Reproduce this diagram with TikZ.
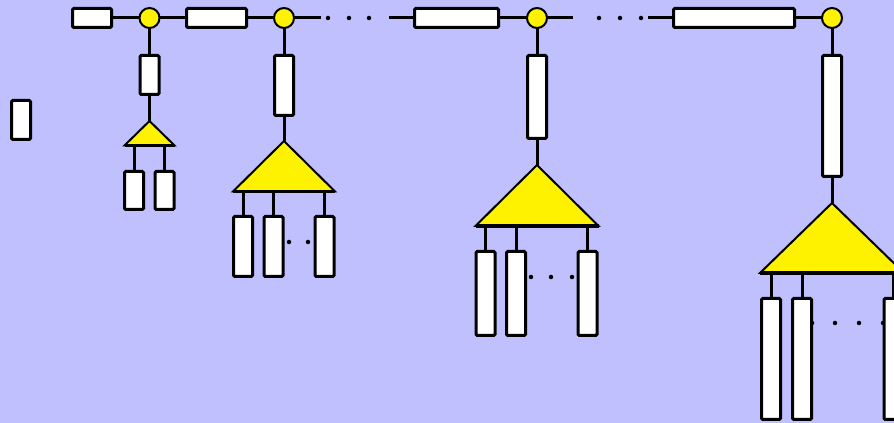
\documentclass[tikz,border=0pt]{standalone}
\definecolor{bg}{RGB}{192,192,255}
\tikzset{
  sz/.style 2 args={minimum width=#1*0.75pt, minimum height=#2*0.75pt},
  box/.style={draw, fill=white, line width=2.25pt, rounded corners=1pt,
              inner sep=0pt, outer sep=0pt},
  joint/.style={circle, draw, fill=yellow, line width=1.5pt, inner sep=0pt,
                outer sep=0pt, minimum size=20*0.75pt},
  wire/.style={line width=2.25pt},
  tri/.style={draw, fill=yellow, line width=1.5pt, line join=miter},
  basel/.style={line width=2.6pt},
  dotn/.style={circle, fill=black, inner sep=0pt, minimum size=4.5*0.75pt},
}
\begin{document}
\begin{tikzpicture}[x=0.75pt, y=-0.75pt]
  % canvas
  \fill[bg] (0,0) rectangle (894,423);
  \useasboundingbox (0,0) rectangle (894,423);

  % ellipsis dots (drawn first so boxes can cover them)
  \node[dotn] (ta) at (328,18) {};
  \node[dotn] (tb) at (349,18) {};
  \node[dotn] (tc) at (369,18) {};
  \node[dotn] (td) at (599,18) {};
  \node[dotn] (te) at (620,18) {};
  \node[dotn] (tf) at (641,18) {};
  \node[dotn] (ua) at (289,242) {};
  \node[dotn] (ub) at (308,242) {};
  \node[dotn] (va) at (531,277) {};
  \node[dotn] (vb) at (551,277) {};
  \node[dotn] (vc) at (572,277) {};
  \node[dotn] (wa) at (812,323) {};
  \node[dotn] (wb) at (835,323) {};
  \node[dotn] (wc) at (859,323) {};
  \node[dotn] (wd) at (883,323) {};

  % triangles (apex, base left, base right)
  \coordinate (p1) at (149.5,121); \coordinate (l1) at (124.5,145.5); \coordinate (r1) at (174.5,145.5);
  \coordinate (p2) at (284,141);   \coordinate (l2) at (233,191.5);   \coordinate (r2) at (335,191.5);
  \coordinate (p3) at (537,165);   \coordinate (l3) at (475.5,226);   \coordinate (r3) at (598.5,226);
  \coordinate (p4) at (832,203);   \coordinate (l4) at (760,273);     \coordinate (r4) at (904,273);
  \foreach \i in {1,2,3,4}{
    \draw[tri] (p\i) -- (l\i) -- (r\i) -- cycle;
    \draw[basel] (l\i) -- (r\i);
  }

  % top chain
  \node[box, sz={39}{19}]  (h1) at (92,18) {};
  \node[joint]             (j1) at (149.5,18) {};
  \node[box, sz={60}{19}]  (h2) at (216.5,18) {};
  \node[joint]             (j2) at (284,18) {};
  \node[box, sz={84}{19}]  (h3) at (456.5,18) {};
  \node[joint]             (j3) at (537,18) {};
  \node[box, sz={121}{19}] (h4) at (734,18) {};
  \node[joint]             (j4) at (832,18) {};
  \coordinate (e2) at (321,18);
  \coordinate (f3) at (389,18);
  \coordinate (e3) at (573,18);
  \coordinate (f4) at (648,18);

  % single box on the left
  \node[box, sz={19}{39}] (lone) at (21,120) {};

  % stems
  \node[box, sz={19}{39}]  (s1) at (149.5,75) {};
  \node[box, sz={19}{60}]  (s2) at (284,85.5) {};
  \node[box, sz={19}{83}]  (s3) at (537,97) {};
  \node[box, sz={19}{121}] (s4) at (832,116) {};

  % leaves
  \node[box, sz={19}{38}] (a1) at (134,190.5) {};
  \node[box, sz={19}{38}] (b1) at (164.5,190.5) {};
  \node[box, sz={19}{60}] (a2) at (243,246.5) {};
  \node[box, sz={19}{60}] (b2) at (273.5,246.5) {};
  \node[box, sz={19}{60}] (c2) at (324.5,246.5) {};
  \node[box, sz={19}{84}] (a3) at (485.5,293.5) {};
  \node[box, sz={19}{84}] (b3) at (516,293.5) {};
  \node[box, sz={19}{84}] (c3) at (587.5,293.5) {};
  \node[box, sz={19}{121}] (a4) at (771,359) {};
  \node[box, sz={19}{121}] (b4) at (802,359) {};
  \node[box, sz={19}{121}] (c4) at (893.5,359) {};

  % horizontal wires
  \draw[wire] (h1.east) -- (j1.west);
  \draw[wire] (j1.east) -- (h2.west);
  \draw[wire] (h2.east) -- (j2.west);
  \draw[wire] (j2.east) -- (e2);
  \draw[wire] (f3) -- (h3.west);
  \draw[wire] (h3.east) -- (j3.west);
  \draw[wire] (j3.east) -- (e3);
  \draw[wire] (f4) -- (h4.west);
  \draw[wire] (h4.east) -- (j4.west);

  % vertical wires
  \foreach \i in {1,2,3,4}{
    \draw[wire] (j\i.south) -- (s\i.north);
    \draw[wire] (s\i.south) -- (p\i);
  }
  \foreach \n/\i in {a1/1,b1/1,a2/2,b2/2,c2/2,a3/3,b3/3,c3/3,a4/4,b4/4,c4/4}{
    \draw[wire] (\n.north |- l\i) -- (\n.north);
  }
\end{tikzpicture}
\end{document}
